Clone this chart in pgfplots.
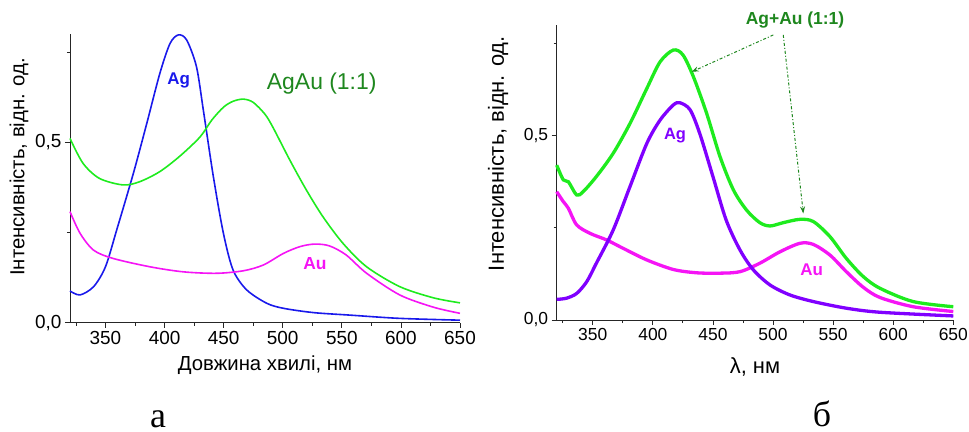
\documentclass[border=0pt]{standalone}
\usepackage{pgfplots}
\pgfplotsset{compat=1.18}
\usepackage{fontspec}
\setmainfont{Liberation Sans}
\newfontfamily\serifl{Liberation Serif}
\usetikzlibrary{arrows.meta}
\definecolor{cAg}{RGB}{25,25,235}
\definecolor{cGr}{RGB}{30,235,30}
\definecolor{cAu}{RGB}{245,20,245}
\definecolor{cPu}{RGB}{128,0,255}
\definecolor{cDg}{RGB}{30,135,30}
\begin{document}
\begin{tikzpicture}
\useasboundingbox (0bp,0bp) rectangle (969bp,432bp);
\pgfplotsset{myax/.style={scale only axis, axis lines*=left,
  xmin=320,xmax=650,ymin=0,ymax=0.8,
  xtick={350,400,...,650}, minor xtick={325,375,...,625},
  ytick={0,0.5}, minor ytick={0.25,0.75},
  tick align=outside, major tick length=5bp, minor tick length=3bp,
  /pgf/number format/assume math mode=true,
  y tick label style={/pgf/number format/.cd, fixed, fixed zerofill, precision=1, use comma},
  clip=false,
  axis line style={black!85, line width=0.8bp},
  every tick/.style={black!85, line width=0.8bp},
  }}
% ---------------- panel a ----------------
\begin{axis}[myax, at={(70bp,109.3bp)}, anchor=south west, width=390bp, height=288.5bp,
  tick label style={font=\fontsize{19}{20}\selectfont},
  xlabel={Довжина хвилі, нм},
  ylabel={Інтенсивність, відн. од.},
  xlabel style={font=\fontsize{20.4}{22}\selectfont, at={(axis description cs:0.5,-0.147)}, anchor=center},
  ylabel style={font=\fontsize{20.4}{22}\selectfont, at={(axis description cs:-0.131,0.54)}, anchor=center, rotate=0},
  ]
\addplot[cAg, line width=1.6bp, smooth] coordinates {
(320,0.088) (328.5,0.077) (340,0.10) (350,0.155) (359.5,0.257) (373.6,0.414)
(385,0.553) (396,0.691) (404.6,0.774) (411.7,0.798) (418.7,0.784) (427,0.71)
(432.8,0.59) (441.3,0.405) (449.8,0.248) (458,0.146) (469.5,0.091) (486.4,0.054)
(500.5,0.040) (526,0.028) (557,0.021) (599,0.012) (650,0.007)};
\addplot[cGr, line width=1.6bp, smooth] coordinates {
(320,0.511) (331,0.442) (345,0.40) (365,0.382) (379,0.391) (396,0.419) (413,0.462)
(430,0.515) (440,0.562) (450,0.598) (458,0.614) (466.7,0.62) (475,0.611) (485,0.578)
(492,0.54) (506,0.451)
(520,0.368) (534,0.294) (551,0.22) (571,0.155) (599,0.10) (627.5,0.069) (650,0.055)};
\addplot[cAu, line width=1.6bp, smooth] coordinates {
(320,0.308) (328.5,0.248) (340,0.201) (356.7,0.178) (387.7,0.155) (416,0.141)
(444,0.137) (466.7,0.144) (483.6,0.16) (500.5,0.192) (514.6,0.211) (527,0.218)
(539.5,0.213) (553.6,0.188) (571,0.137) (599,0.077) (627.5,0.043) (650,0.026)};
\node[text=cAg, font=\bfseries\fontsize{17}{17}\selectfont] at (axis cs:412,0.671) {Ag};
\node[text=cDg, font=\fontsize{23}{23}\selectfont] at (axis cs:533,0.664) {AgAu (1:1)};
\node[text=cAu, font=\bfseries\fontsize{17.5}{17.5}\selectfont] at (axis cs:527.3,0.165) {Au};
\end{axis}
% ---------------- panel b ----------------
\begin{axis}[myax, at={(556.7bp,112bp)}, anchor=south west, width=396.6bp, height=295bp,
  tick label style={font=\fontsize{17.5}{19}\selectfont},
  xlabel={λ, нм},
  ylabel={Інтенсивність, відн. од.},
  xlabel style={font=\fontsize{22}{24}\selectfont, at={(axis description cs:0.5,-0.159)}, anchor=center},
  ylabel style={font=\fontsize{22}{24}\selectfont, at={(axis description cs:-0.148,0.564)}, anchor=center, rotate=0},
  ]
\addplot[cGr, line width=3.3bp, smooth] coordinates {
(320,0.42) (325.5,0.38) (329.7,0.375) (336.6,0.339) (342,0.348) (353,0.389) (367,0.452)
(381,0.533) (395,0.628) (406,0.70) (417,0.732) (425,0.719) (433.7,0.66) (444.8,0.56)
(455.9,0.443) (467,0.353) (478,0.298) (489,0.264) (497.5,0.255) (508.6,0.264)
(522.4,0.273) (533.5,0.267) (547.4,0.226) (561,0.167) (575,0.118) (589,0.086)
(616.6,0.05) (650,0.036)};
\addplot[cAu, line width=3.3bp, smooth] coordinates {
(320,0.348) (325.5,0.321) (329.7,0.303) (336.6,0.258) (347.7,0.235) (361.6,0.217)
(375.5,0.194) (394.9,0.163) (417,0.137) (436.5,0.128) (455.9,0.127) (472.5,0.131)
(489,0.154) (505.8,0.185) (522.4,0.208) (533.5,0.205) (547.4,0.176) (561,0.131)
(575,0.089) (589,0.061) (616.6,0.036) (650,0.023)};
\addplot[cPu, line width=3.3bp, smooth] coordinates {
(320,0.056) (328,0.059) (336.6,0.072) (345,0.104) (353,0.154) (367,0.244) (381,0.362)
(395,0.479) (406,0.542) (417,0.583) (422.6,0.589) (431,0.57) (439,0.506) (450,0.389)
(461,0.271) (472.5,0.19) (483.6,0.136) (497.5,0.095) (514,0.068) (533.5,0.05)
(561,0.032) (589,0.021) (650,0.011)};
\node[text=cPu, font=\bfseries\fontsize{16.5}{16.5}\selectfont] at (axis cs:418.4,0.499) {Ag};
\node[text=cAu, font=\bfseries\fontsize{17}{17}\selectfont] at (axis cs:532.1,0.1375) {Au};
\node[text=cDg, font=\bfseries\fontsize{17.5}{17.5}\selectfont] at (axis cs:518.3,0.814) {Ag+Au (1:1)};
\draw[cDg, line width=1bp, dash dot, -{Stealth[length=7bp,width=5bp]}] (axis cs:500.2,0.773) -- (axis cs:432.3,0.673);
\draw[cDg, line width=1bp, dash dot, -{Stealth[length=7bp,width=5bp]}] (axis cs:508.5,0.773) -- (axis cs:525.2,0.289);
\end{axis}
\node[anchor=base, inner sep=0pt, font=\serifl\fontsize{36}{36}\selectfont] at (158bp,5bp) {а};
\node[anchor=base, inner sep=0pt, font=\serifl\fontsize{36}{36}\selectfont] at (822bp,6bp) {б};
\end{tikzpicture}
\end{document}
